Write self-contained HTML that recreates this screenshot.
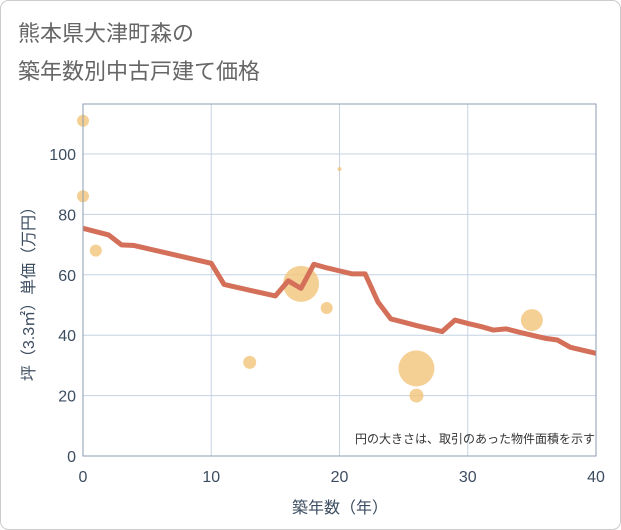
<!DOCTYPE html>
<html><head><meta charset="utf-8"><style>
body{margin:0;background:#fff;}
svg{display:block;font-family:"Liberation Sans","Noto Sans CJK JP",sans-serif;}
</style></head><body>
<svg id="c" width="621" height="530">
<rect x="0.5" y="0.5" width="620" height="529" rx="8" fill="#fff" stroke="#ccc"/>
<text x="18" y="41" font-size="22" fill="#666">熊本県大津町森の</text>
<text x="18" y="79" font-size="22" fill="#666">築年数別中古戸建て価格</text>
<g id="grid"></g><g id="bubbles"></g><g id="line"></g><g id="axes"></g>
<text x="595" y="443" font-size="12" fill="#333" text-anchor="end">円の大きさは、取引のあった物件面積を示す</text>
<text x="340" y="513" font-size="16" fill="#3d4d60" text-anchor="middle">築年数（年）</text>
<text transform="translate(34,290) rotate(-90)" font-size="16" fill="#3d4d60" text-anchor="middle">坪（3.3㎡）単価（万円）</text>
</svg>
<script>
const xTicks=[0,10,20,30,40];
const yTicks=[0,20,40,60,80,100];
const lineYears=[0,2,3,4,10,11,15,16,17,18,19,20,21,22,23,24,25,26,27,28,29,30,31,32,33,34,35,36,37,38,39,40];
const lineValues=[75.4,73.2,69.9,69.7,63.8,56.8,53,58,55.5,63.5,62.3,61.3,60.3,60.3,51,45.4,44.3,43.2,42.2,41.2,45,43.9,42.9,41.7,42.1,41,40,39,38.4,36,35,34];
const bubbleYears=[0,0,1,13,17,19,20,26,26,35];
const bubbleValues=[111,86,68,31,57,49,95,29,20,45];
const bubbleSizes=[6,6,6,6.5,18,6,2,18,7,11];
const NS="http://www.w3.org/2000/svg";
const X0=83,X1=596,Y0=456,YT=104;
const xs=v=>X0+(X1-X0)*v/40;
const ys=v=>Y0-3.02*v;
function mk(t,a,p){const e=document.createElementNS(NS,t);for(const k in a)e.setAttribute(k,a[k]);p.appendChild(e);return e;}
const g=document.getElementById('grid'),ax=document.getElementById('axes');
xTicks.forEach(t=>{const l=mk('line',{x1:xs(t),x2:xs(t),y1:YT,y2:Y0,stroke:'#c5d3e2'},g);


const tx=mk('text',{x:xs(t),y:482,'font-size':16,fill:'#3d4d60','text-anchor':'middle'},ax);tx.textContent=t;

});
yTicks.forEach(t=>{const l=mk('line',{x1:X0,x2:X1,y1:ys(t),y2:ys(t),stroke:'#c5d3e2'},g);


const tx=mk('text',{x:76,y:ys(t)+6,'font-size':16,fill:'#3d4d60','text-anchor':'end'},ax);tx.textContent=t;

});
const fr=mk('rect',{x:X0,y:YT,width:X1-X0,height:Y0-YT,fill:'none',stroke:'#8a9bb0'},ax);


const bg=document.getElementById('bubbles');
bubbleYears.forEach((yr,i)=>{const c=mk('circle',{cx:xs(yr),cy:ys(bubbleValues[i]),r:bubbleSizes[i],fill:'#f3c47a','fill-opacity':0.8},bg);

});
const pts=lineYears.map((yr,i)=>xs(yr)+','+ys(lineValues[i])).join(' ');
const pl=mk('polyline',{points:pts,fill:'none',stroke:'#d4705a','stroke-width':5,'stroke-linejoin':'round'},document.getElementById('line'));


</script>
</body></html>
